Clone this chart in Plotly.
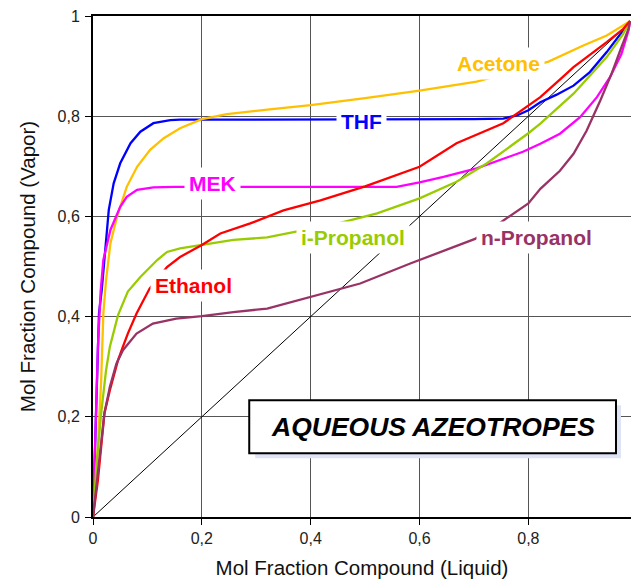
import plotly.graph_objects as go

# ---- data ----
thf_x = [0, 0.003, 0.006, 0.011, 0.016, 0.023, 0.029, 0.038, 0.05, 0.069, 0.087, 0.111, 0.142, 0.16, 0.2, 0.3, 0.4, 0.5, 0.6, 0.7, 0.754, 0.78, 0.8, 0.822, 0.852, 0.883, 0.913, 0.944, 0.974, 0.987]
thf_y = [0, 0.1, 0.22, 0.406, 0.453, 0.546, 0.613, 0.666, 0.706, 0.746, 0.769, 0.786, 0.792, 0.793, 0.793, 0.793, 0.794, 0.794, 0.794, 0.794, 0.795, 0.802, 0.812, 0.828, 0.843, 0.861, 0.888, 0.928, 0.971, 0.99]

acetone_x = [0, 0.004, 0.009, 0.015, 0.019, 0.024, 0.032, 0.044, 0.062, 0.081, 0.105, 0.13, 0.16, 0.2, 0.246, 0.32, 0.4, 0.5, 0.6, 0.705, 0.837, 0.901, 0.944, 0.974, 0.987]
acetone_y = [0, 0.06, 0.14, 0.273, 0.406, 0.473, 0.546, 0.599, 0.659, 0.699, 0.733, 0.756, 0.776, 0.794, 0.804, 0.813, 0.822, 0.836, 0.851, 0.869, 0.909, 0.941, 0.961, 0.981, 0.99]

mek_x = [0, 0.004, 0.009, 0.014, 0.019, 0.032, 0.05, 0.062, 0.081, 0.111, 0.15, 0.3, 0.45, 0.558, 0.6, 0.644, 0.705, 0.79, 0.822, 0.858, 0.895, 0.926, 0.95, 0.971, 0.984, 0.987]
mek_y = [0, 0.14, 0.34, 0.45, 0.513, 0.573, 0.619, 0.639, 0.653, 0.658, 0.659, 0.659, 0.659, 0.659, 0.668, 0.679, 0.696, 0.729, 0.745, 0.765, 0.798, 0.838, 0.878, 0.924, 0.971, 0.99]

ethanol_x = [0, 0.009, 0.015, 0.021, 0.031, 0.046, 0.055, 0.064, 0.08, 0.104, 0.136, 0.16, 0.2, 0.234, 0.289, 0.35, 0.418, 0.5, 0.6, 0.668, 0.754, 0.8, 0.822, 0.864, 0.883, 0.944, 0.974, 0.987]
ethanol_y = [0, 0.073, 0.14, 0.207, 0.253, 0.313, 0.34, 0.366, 0.406, 0.456, 0.499, 0.519, 0.543, 0.566, 0.586, 0.612, 0.632, 0.66, 0.699, 0.746, 0.786, 0.822, 0.838, 0.879, 0.898, 0.948, 0.974, 0.99]

ipropanol_x = [0, 0.006, 0.015, 0.024, 0.031, 0.046, 0.064, 0.087, 0.118, 0.136, 0.16, 0.2, 0.258, 0.32, 0.368, 0.454, 0.522, 0.6, 0.668, 0.724, 0.8, 0.822, 0.883, 0.913, 0.944, 0.974, 0.987]
ipropanol_y = [0, 0.1, 0.207, 0.293, 0.34, 0.403, 0.45, 0.479, 0.513, 0.529, 0.536, 0.543, 0.553, 0.558, 0.568, 0.587, 0.606, 0.636, 0.669, 0.706, 0.766, 0.785, 0.845, 0.881, 0.918, 0.964, 0.99]

npropanol_x = [0, 0.006, 0.015, 0.021, 0.031, 0.043, 0.055, 0.08, 0.11, 0.153, 0.2, 0.258, 0.32, 0.4, 0.491, 0.583, 0.702, 0.745, 0.8, 0.822, 0.858, 0.883, 0.907, 0.932, 0.953, 0.971, 0.984, 0.987]
npropanol_y = [0, 0.06, 0.14, 0.207, 0.26, 0.306, 0.333, 0.366, 0.386, 0.396, 0.401, 0.409, 0.416, 0.44, 0.466, 0.506, 0.555, 0.585, 0.626, 0.655, 0.691, 0.725, 0.771, 0.831, 0.885, 0.938, 0.974, 0.99]

diag_x = [0, 0.987]
diag_y = [0, 0.987]

tick_vals_x = [0, 0.2, 0.4, 0.6, 0.8]
tick_text_x = ["0", "0,2", "0,4", "0,6", "0,8"]
tick_vals_y = [0, 0.2, 0.4, 0.6, 0.8, 1]
tick_text_y = ["0", "0,2", "0,4", "0,6", "0,8", "1"]

# label name, color, x, y (label centre in data units)
labels = [
    ("Acetone", "#FFC000", 0.746, 0.905),
    ("THF", "#0000FF", 0.493, 0.789),
    ("MEK", "#FF00FF", 0.219, 0.666),
    ("Ethanol", "#FF0000", 0.185, 0.462),
    ("i-Propanol", "#99CC00", 0.477, 0.558),
    ("n-Propanol", "#993366", 0.815, 0.558),
]

FONT = "Liberation Sans, Arial, sans-serif"

fig = go.Figure()
fig.add_trace(go.Scatter(x=diag_x, y=diag_y, mode="lines",
                         line=dict(color="black", width=1), hoverinfo="skip"))

series = [
    (thf_x, thf_y, "#0000FF"),
    (acetone_x, acetone_y, "#FFC000"),
    (mek_x, mek_y, "#FF00FF"),
    (ipropanol_x, ipropanol_y, "#99CC00"),
    (ethanol_x, ethanol_y, "#FF0000"),
    (npropanol_x, npropanol_y, "#993366"),
]
for xs, ys, col in series:
    fig.add_trace(go.Scatter(x=xs, y=ys, mode="lines",
                             line=dict(color=col, width=2.3)))

for name, col, lx, ly in labels:
    fig.add_annotation(x=lx, y=ly, xref="x", yref="y", text=name, showarrow=False,
                       xanchor="center", yanchor="middle",
                       font=dict(family=FONT, size=21, color=col, weight="bold"),
                       bgcolor="white", borderpad=4)

# title box: shadow + framed box
fig.add_shape(type="rect", xref="paper", yref="paper",
              x0=0.3015, x1=0.9814, y0=0.1172, y1=0.2231,
              fillcolor="#dfe4f5", line=dict(width=0), layer="above")
fig.add_shape(type="rect", xref="paper", yref="paper",
              x0=0.2904, x1=0.9721, y0=0.1272, y1=0.2331,
              fillcolor="white", line=dict(color="black", width=2), layer="above")
fig.add_annotation(x=0.6313, y=0.1801, xref="paper", yref="paper",
                   xanchor="center", yanchor="middle",
                   text="<i>AQUEOUS AZEOTROPES</i>", showarrow=False,
                   font=dict(family=FONT, size=26.5, color="black", weight="bold"))

fig.update_layout(
    width=631, height=579, autosize=False,
    margin=dict(l=93, r=0, t=16, b=62),
    paper_bgcolor="white", plot_bgcolor="white",
    showlegend=False,
    font=dict(family=FONT, color="#111"),
)
fig.update_xaxes(range=[0, 0.9886], tickvals=tick_vals_x, ticktext=tick_text_x,
                 automargin=False,
                 showgrid=True, gridcolor="#555", gridwidth=1, zeroline=False,
                 showline=True, linecolor="black", linewidth=2, mirror=True,
                 ticks="outside", ticklen=6, tickcolor="black", tickwidth=1,
                 tickfont=dict(size=16, color="#222"),
                 title=dict(text="Mol Fraction Compound (Liquid)", font=dict(size=20.5, color="#111"), standoff=14))
fig.update_yaxes(range=[0, 1], tickvals=tick_vals_y, ticktext=tick_text_y,
                 automargin=False, ticklabelstandoff=2,
                 showgrid=True, gridcolor="#555", gridwidth=1, zeroline=False,
                 showline=True, linecolor="black", linewidth=2,
                 ticks="outside", ticklen=6, tickcolor="black", tickwidth=1,
                 tickfont=dict(size=16, color="#222"),
                 title=dict(text="Mol Fraction Compound (Vapor)", font=dict(size=20.5, color="#111"), standoff=16))

fig.write_html("out.html", config={"displayModeBar": False},
               post_script="document.body.style.margin='0';document.body.style.overflow='hidden';")
